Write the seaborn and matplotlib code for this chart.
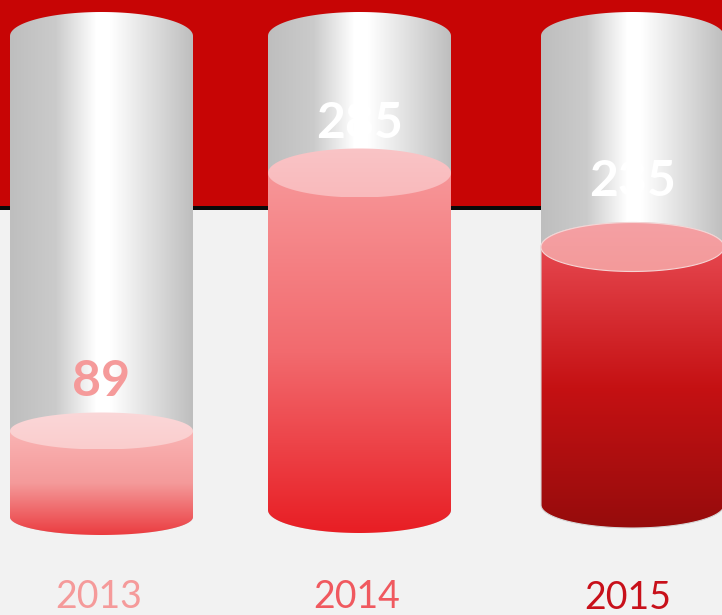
import numpy as np
import matplotlib
matplotlib.use("Agg")
import matplotlib.pyplot as plt
from matplotlib.colors import LinearSegmentedColormap
from matplotlib.patches import Polygon
import seaborn as sns

years = ["2013", "2014", "2015"]
values = ["89", "285", "235"]
# the fill levels in the picture are not proportional to the labels, so they are read apart
fill_levels = [86, 344, 270]

# layout, in pixels of the 722x615 picture
x_centers = [101.5, 359.5, 632.5]
cyl_width = 183
base_y = 517
base_offset = [0, 7, 12]
fill_ry = [18.5, 24.5, 24.5]
base_ry = [18, 23, 23]
tube_top = 481
tube_ry = 24
value_y = [381, 124, 182]
year_y = [597, 597, 598]
year_dx = [-3, -3, -5]

value_colors = ["#F59A9A", "white", "white"]
year_colors = ["#F59A9A", "#F0595F", "#C8101A"]
side_colors = [
    ["#FAB4B4", "#F49A9A", "#EB3C40"],
    ["#F79698", "#F26A6E", "#E81E24"],
    ["#E6474F", "#C51113", "#960C0C"],
]
lid_colors = [
    ["#FBD7D8", "#FACDCD"],
    ["#FAC4C6", "#F9BABC"],
    ["#F5A0A4", "#F39A9A"],
]

sns.set_style("white")
plt.rcParams["font.family"] = ["Lato", "DejaVu Sans"]

fig = plt.figure(figsize=(7.22, 6.15), dpi=100, facecolor="#F2F2F2")
ax = fig.add_axes([0, 0, 1, 1])

sns.barplot(x=x_centers, y=fill_levels, native_scale=True, width=cyl_width / 258, color="#E81E24", ax=ax)
bars = list(ax.patches)
for bar in bars:
    bar.set_visible(False)

ax.axhspan(base_y - 206, base_y + 10, color="#C70505", lw=0, zorder=0)
ax.axhspan(base_y - 210, base_y - 206, color="#0A0A0A", lw=0, zorder=0.5)

gray_map = LinearSegmentedColormap.from_list(
    "tube", [(0, "#BEBEBE"), (0.25, "#CBCBCB"), (0.47, "#FFFFFF"), (0.55, "#FFFFFF"), (1, "#BEBEBE")]
)


def arc(cx, cy, w, ry, lower=True):
    t = np.linspace(0, np.pi, 80)
    sign = -1 if lower else 1
    return np.column_stack([cx - w / 2 * np.cos(t), cy + sign * ry * np.sin(t)])


def paint(poly, extent, data, cmap, z):
    im = ax.imshow(data, extent=extent, cmap=cmap, aspect="auto", origin="upper", zorder=z, vmin=0, vmax=1)
    clip = Polygon(poly, closed=True, transform=ax.transData)
    im.set_clip_path(clip)


for i, bar in enumerate(bars):
    w = bar.get_width()
    cx = bar.get_x() + w / 2
    top = bar.get_height()
    low = base_offset[i]  # base sits above the common zero line
    left, right = cx - w / 2, cx + w / 2

    # empty glass tube
    shape = np.vstack([arc(cx, low, w, base_ry[i]), arc(cx, tube_top, w, tube_ry, lower=False)[::-1]])
    paint(shape, (left, right, low - 30, tube_top + tube_ry),
          np.linspace(0, 1, 256).reshape(1, -1), gray_map, 2)

    # filled part
    side = LinearSegmentedColormap.from_list("side%d" % i, side_colors[i])
    shape = np.vstack([arc(cx, low, w, base_ry[i]), arc(cx, top, w, fill_ry[i], lower=False)[::-1]])
    paint(shape, (left, right, low - base_ry[i], top),
          np.linspace(0, 1, 256).reshape(-1, 1), side, 3)

    # lid of the fill
    lid = LinearSegmentedColormap.from_list("lid%d" % i, lid_colors[i])
    t = np.linspace(0, 2 * np.pi, 160)
    lid_shape = np.column_stack([cx + w / 2 * np.cos(t), top + fill_ry[i] * np.sin(t)])
    paint(lid_shape, (left, right, top - fill_ry[i], top + fill_ry[i]),
          np.linspace(0, 1, 64).reshape(-1, 1), lid, 4)

    # 2015 has a thin pale outline in the reference
    if i == 2:
        ax.add_patch(Polygon(shape, closed=True, fill=False, ec="#D8D8D8", lw=0.8, zorder=3.5))
        ax.add_patch(Polygon(lid_shape, closed=True, fill=False, ec="#F5D5D5", lw=0.8, zorder=4.5))

    ax.text(cx, base_y - value_y[i], values[i], color=value_colors[i], fontsize=36, fontweight="bold",
            ha="center", va="center", zorder=5)
    ax.text(cx + year_dx[i], base_y - year_y[i], years[i], color=year_colors[i], fontsize=27,
            ha="center", va="center", zorder=5)

ax.set_xlim(0, 722)
ax.set_ylim(base_y - 615, base_y)
ax.axis("off")

fig.savefig("out.png", dpi=100, facecolor=fig.get_facecolor())
